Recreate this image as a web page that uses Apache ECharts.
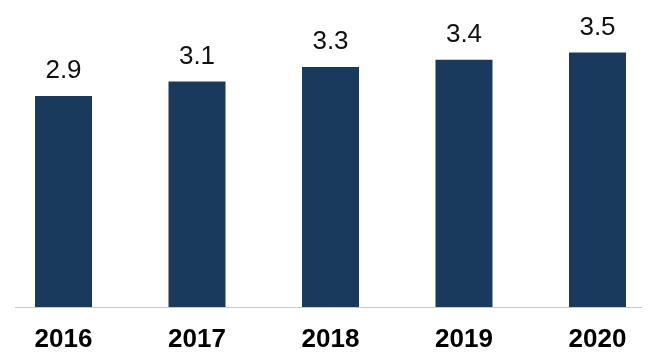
<!DOCTYPE html>
<html><head><meta charset="utf-8">
<script src="https://cdn.jsdelivr.net/npm/echarts@6/dist/echarts.min.js"></script>
<style>html,body{margin:0;padding:0;background:#fff}#c{width:650px;height:363px}</style>
</head><body><div id="c"></div>
<script>
const categories = ['2016', '2017', '2018', '2019', '2020'];
const values = [2.9, 3.1, 3.3, 3.4, 3.5];

const positions = categories.map((c, i) => i);
const chart = echarts.init(document.getElementById('c'));
chart.setOption({
  animation: false,
  backgroundColor: '#ffffff',
  grid: { left: 0, right: 0, top: 16, bottom: 56, containLabel: false },
  xAxis: {
    type: 'value',
    min: -0.4757,
    max: 4.3933,
    axisLine: { show: false },
    axisTick: { show: false },
    splitLine: { show: false },
    axisLabel: {
      customValues: positions,
      formatter: v => categories[Math.round(v)],
      margin: 20, fontFamily: 'Liberation Sans, Arial', fontWeight: 'bold', fontSize: 26, color: '#000'
    }
  },
  yAxis: { type: 'value', min: 0, max: 4, show: false, splitLine: { show: false } },
  series: [{
    type: 'bar',
    data: values.map((v, i) => [positions[i], v]),
    barWidth: 57,
    itemStyle: { color: '#193a5c' },
    label: { show: true, position: 'top', distance: 12, fontFamily: 'Liberation Sans, Arial', fontSize: 26, color: '#111',
      formatter: p => p.value[1].toFixed(1) }
  }],
  graphic: [{
    type: 'line', silent: true,
    shape: { x1: 15, y1: 307.5, x2: 642, y2: 307.5 },
    style: { stroke: '#c8c8c8', lineWidth: 1 }
  }]
});
</script></body></html>
